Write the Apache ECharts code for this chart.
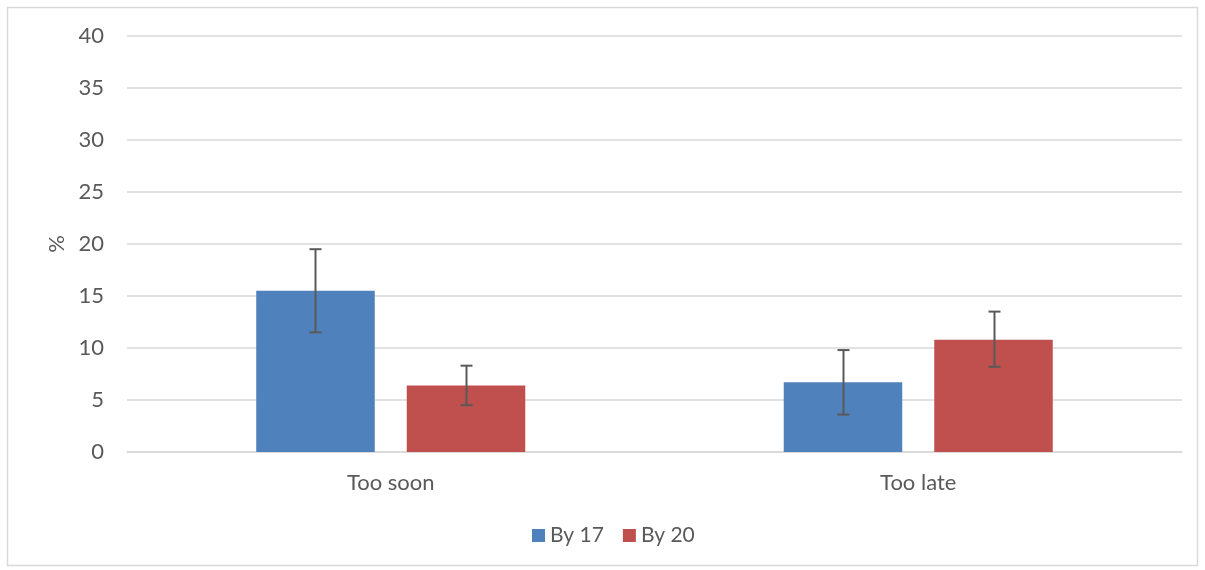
<!DOCTYPE html>
<html>
<head>
<meta charset="utf-8">
<script src="https://cdn.jsdelivr.net/npm/echarts@6/dist/echarts.min.js"></script>
<style>html,body{margin:0;padding:0;background:#fff;}#c{width:1205px;height:570px;}</style>
</head>
<body>
<div id="c"></div>
<script>
var categories = ['Too soon', 'Too late'];
var seriesNames = ['By 17', 'By 20'];
var by17 = [15.5, 6.7];
var by17Low = [11.5, 3.6];
var by17High = [19.5, 9.8];
var by20 = [6.4, 10.8];
var by20Low = [4.5, 8.2];
var by20High = [8.3, 13.5];
var yTicks = [0, 5, 10, 15, 20, 25, 30, 35, 40];

var colors = ['#4f81bd', '#c0504d'];
var CAT_GAP = 0.49, BAR_GAP = 0.27;
var FONT = 'Lato, "Open Sans", sans-serif';

function errData(lo, hi) {
  return categories.map(function (c, i) { return [i, lo[i], hi[i]]; });
}
function errSeries(idx, lo, hi) {
  return {
    type: 'custom',
    name: seriesNames[idx] + ' error',
    data: errData(lo, hi),
    z: 10,
    silent: true,
    renderItem: function (params, api) {
      var band = api.size([1, 0])[0];
      var usable = band * (1 - CAT_GAP);
      var bw = usable / (2 + BAR_GAP);
      var off = (bw + bw * BAR_GAP) / 2 * (idx === 0 ? -1 : 1);
      var p1 = api.coord([api.value(0), api.value(1)]);
      var p2 = api.coord([api.value(0), api.value(2)]);
      var x = Math.round(p1[0] + off) + 0.5;
      var cap = 6;
      var st = { stroke: '#595959', lineWidth: 2 };
      return {
        type: 'group',
        children: [
          { type: 'line', shape: { x1: x, y1: p1[1], x2: x, y2: p2[1] }, style: st },
          { type: 'line', shape: { x1: x - cap, y1: p1[1], x2: x + cap, y2: p1[1] }, style: st },
          { type: 'line', shape: { x1: x - cap, y1: p2[1], x2: x + cap, y2: p2[1] }, style: st }
        ]
      };
    }
  };
}

var chart = echarts.init(document.getElementById('c'));
chart.setOption({
  animation: false,
  textStyle: { fontFamily: FONT },
  graphic: [{
    type: 'rect', shape: { x: 7.5, y: 7.5, width: 1190, height: 558 },
    style: { fill: 'none', stroke: '#d9d9d9', lineWidth: 1.5 }, silent: true, z: -1
  }],
  grid: { left: 127, right: 23, top: 36, bottom: 118 },
  legend: {
    data: seriesNames,
    bottom: 19,
    left: 527,
    icon: 'rect',
    itemWidth: 13,
    itemHeight: 13,
    itemGap: 19,
    textStyle: { fontSize: 21, color: '#595959', fontFamily: FONT }
  },
  xAxis: {
    type: 'category',
    data: categories,
    axisLine: { lineStyle: { color: '#d9d9d9', width: 1.5 } },
    axisTick: { show: false },
    axisLabel: { fontSize: 22, color: '#595959', margin: 20, fontFamily: FONT }
  },
  yAxis: {
    type: 'value',
    min: yTicks[0],
    max: yTicks[yTicks.length - 1],
    interval: 5,
    name: '%',
    nameLocation: 'middle',
    nameGap: 58,
    nameRotate: 90,
    nameTextStyle: { fontSize: 22, color: '#595959', fontFamily: FONT },
    axisLine: { show: false },
    axisTick: { show: false },
    splitLine: { lineStyle: { color: '#d9d9d9', width: 1.5 } },
    axisLabel: { fontSize: 22, color: '#595959', margin: 23, fontFamily: FONT }
  },
  series: [
    { type: 'bar', name: seriesNames[0], data: by17, itemStyle: { color: colors[0] }, barCategoryGap: (CAT_GAP * 100) + '%', barGap: (BAR_GAP * 100) + '%' },
    { type: 'bar', name: seriesNames[1], data: by20, itemStyle: { color: colors[1] }, barCategoryGap: (CAT_GAP * 100) + '%', barGap: (BAR_GAP * 100) + '%' },
    errSeries(0, by17Low, by17High),
    errSeries(1, by20Low, by20High)
  ]
});
</script>
</body>
</html>
